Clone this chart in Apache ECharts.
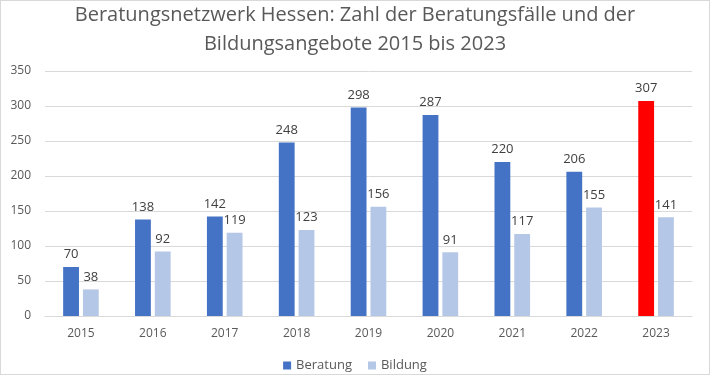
<!DOCTYPE html>
<html>
<head>
<meta charset="utf-8">
<script src="https://cdn.jsdelivr.net/npm/echarts@6/dist/echarts.min.js"></script>
<style>
  html, body { margin: 0; padding: 0; background: #fff; }
  #chart { width: 710px; height: 375px; box-sizing: border-box; border: 1px solid #d9d9d9; }
</style>
</head>
<body>
<div id="chart"></div>
<script>
var years = ['2015', '2016', '2017', '2018', '2019', '2020', '2021', '2022', '2023'];
var beratung = [70, 138, 142, 248, 298, 287, 220, 206, 307];
var bildung = [38, 92, 119, 123, 156, 91, 117, 155, 141];

var chart = echarts.init(document.getElementById('chart'));
var font = 'Open Sans';

var option = {
  backgroundColor: '#fff',
  animation: false,
  title: {
    text: 'Beratungsnetzwerk Hessen: Zahl der Beratungsfälle und der\nBildungsangebote 2015 bis 2023',
    left: 'center',
    top: -5,
    textStyle: { fontFamily: font, fontSize: 20, fontWeight: 'normal', color: '#595959', lineHeight: 29 }
  },
  legend: {
    bottom: -3,
    left: 'center',
    itemWidth: 8,
    itemHeight: 8,
    itemGap: 16,
    icon: 'rect',
    textStyle: { fontFamily: font, fontSize: 13, color: '#595959' },
    data: ['Beratung', 'Bildung']
  },
  grid: { left: 44, right: 17, top: 70, bottom: 58 },
  xAxis: {
    type: 'category',
    data: years,
    axisLine: { lineStyle: { color: '#d9d9d9' } },
    axisTick: { show: false },
    axisLabel: { fontFamily: font, fontSize: 12, color: '#595959', margin: 12 }
  },
  yAxis: {
    type: 'value',
    min: 0,
    max: 350,
    interval: 50,
    axisLine: { show: false },
    axisTick: { show: false },
    splitLine: { lineStyle: { color: '#d9d9d9' } },
    axisLabel: { fontFamily: font, fontSize: 12, color: '#595959', margin: 14 }
  },
  series: [
    {
      name: 'Beratung',
      type: 'bar',
      data: beratung.map(function (v, i) {
        return i === years.length - 1 ? { value: v, itemStyle: { color: '#ff0000' } } : v;
      }),
      itemStyle: { color: '#4472c4' },
      barWidth: '22%',
      barGap: '25%',
      label: { show: true, position: 'top', distance: 6, fontFamily: font, fontSize: 13, color: '#404040' }
    },
    {
      name: 'Bildung',
      type: 'bar',
      data: bildung,
      itemStyle: { color: '#b4c7e7' },
      barWidth: '22%',
      label: { show: true, position: 'top', distance: 6, fontFamily: font, fontSize: 13, color: '#404040' }
    }
  ]
};
chart.setOption(option);
</script>
</body>
</html>
